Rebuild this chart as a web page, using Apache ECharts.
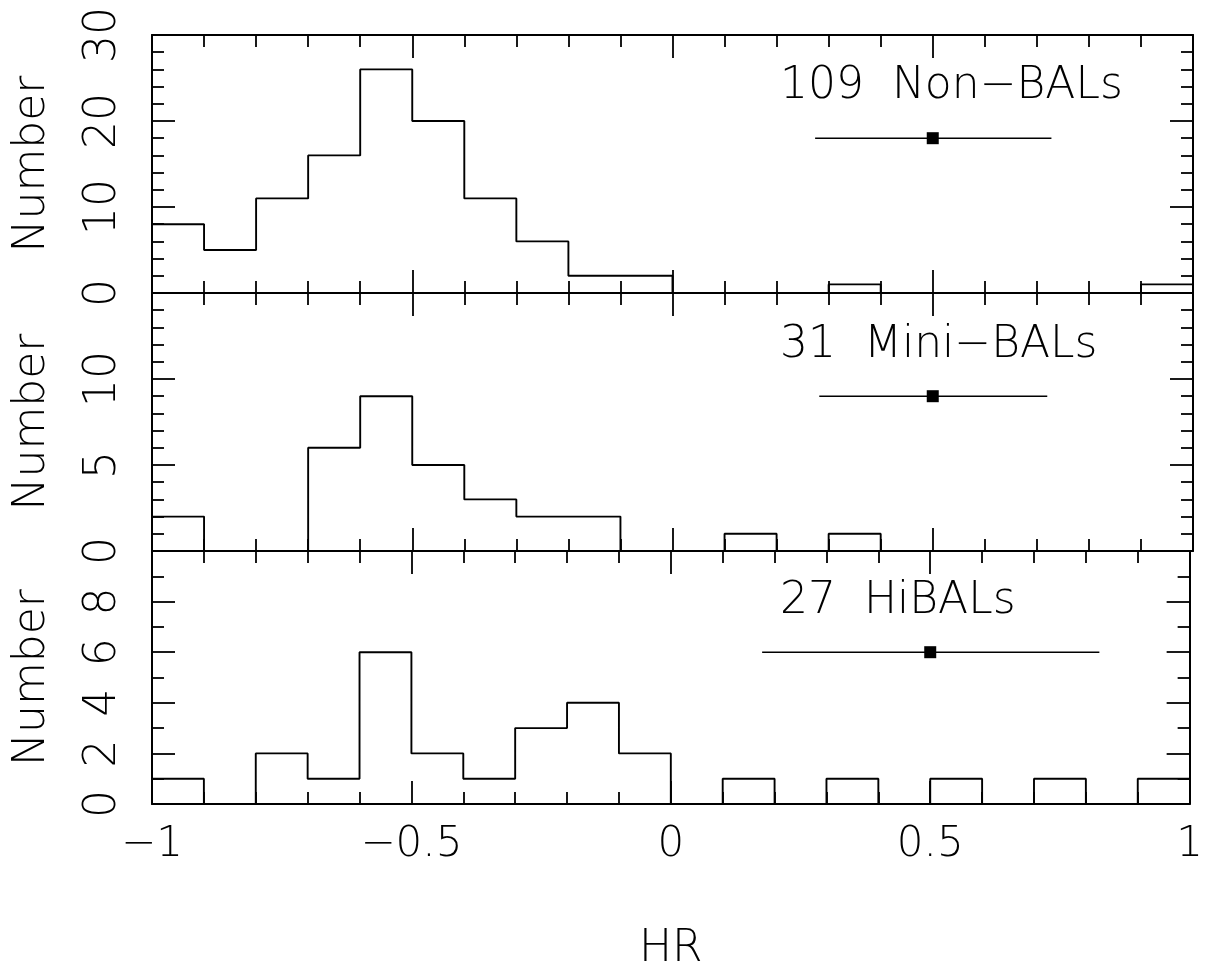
<!DOCTYPE html>
<html>
<head>
<meta charset="utf-8">
<script src="https://cdn.jsdelivr.net/npm/echarts@6/dist/echarts.min.js"></script>
<style>
  html, body { margin: 0; padding: 0; background: #ffffff; }
  #chart { width: 1206px; height: 973px; }
</style>
</head>
<body>
<div id="chart"></div>
<script>
// ---- Data ----
const hrEdges = [-1, -0.9, -0.8, -0.7, -0.6, -0.5, -0.4, -0.3, -0.2, -0.1, 0,
                 0.1, 0.2, 0.3, 0.4, 0.5, 0.6, 0.7, 0.8, 0.9, 1];
const nonBALs  = [8, 5, 11, 16, 26, 20, 11, 6, 2, 2, 0, 0, 0, 1, 0, 0, 0, 0, 0, 1];
const miniBALs = [2, 0, 0, 6, 9, 5, 3, 2, 2, 0, 0, 1, 0, 1, 0, 0, 0, 0, 0, 0];
const hiBALs   = [1, 0, 2, 1, 6, 2, 1, 3, 4, 2, 0, 1, 0, 1, 0, 1, 0, 1, 0, 1];
const panelLabels = ['109  Non\u2212BALs', '31  Mini\u2212BALs', '27  HiBALs'];
const errCenter = [0.5, 0.5, 0.5];
const errLow    = [0.274, 0.282, 0.176];
const errHigh   = [0.728, 0.720, 0.826];
const errLevel  = [18, 9, 6];
const yMax      = [30, 15, 10];
const yInterval = [10, 5, 2];
const yMinorSplit = [5, 5, 2];

// ---- Layout ----
const FONT = "'DejaVu Sans', sans-serif";
const W = 200;
const plotLeft = 152, plotWidth = 1041;
const panelTops = [35, 293, 551];
const panelH = 258;

const chart = echarts.init(document.getElementById('chart'), null, { renderer: 'canvas' });

function histPoints(vals) {
  const pts = [];
  for (let i = 0; i < vals.length; i++) {
    pts.push([hrEdges[i], vals[i]]);
    pts.push([hrEdges[i + 1], vals[i]]);
  }
  return pts;
}

const fmtMinus = v => String(v).replace('-', '\u2212');
const allData = [nonBALs, miniBALs, hiBALs];

const grids = [], xAxes = [], yAxes = [], series = [], graphics = [];
const tickStyle = { color: '#000', width: 1.8 };

for (let p = 0; p < 3; p++) {
  grids.push({ left: plotLeft, width: plotWidth, top: panelTops[p], height: panelH });
  ['bottom', 'top'].forEach(pos => {
    const showLab = (p === 2 && pos === 'bottom');
    xAxes.push({
      type: 'value', gridIndex: p, position: pos, min: -1, max: 1, interval: 0.5,
      axisLine: { show: true, onZero: false, lineStyle: { color: '#000', width: 2 } },
      axisTick: { show: true, inside: true, length: 23, lineStyle: tickStyle },
      minorTick: { show: true, splitNumber: 5, length: 12, lineStyle: tickStyle },
      splitLine: { show: false },
      axisLabel: {
        show: showLab, margin: 20, color: '#000', fontFamily: FONT, fontWeight: W, fontSize: 42,
        formatter: fmtMinus, showMinLabel: true, showMaxLabel: true
      },
      name: showLab ? 'HR' : '', nameLocation: 'middle', nameGap: 124,
      nameTextStyle: { color: '#000', fontFamily: FONT, fontWeight: W, fontSize: 44 }
    });
  });
  ['left', 'right'].forEach(pos => {
    const showLab = pos === 'left';
    yAxes.push({
      type: 'value', gridIndex: p, position: pos, min: 0, max: yMax[p], interval: yInterval[p],
      axisLine: { show: true, onZero: false, lineStyle: { color: '#000', width: 2 } },
      axisTick: { show: true, inside: true, length: 23, lineStyle: tickStyle },
      minorTick: { show: true, splitNumber: yMinorSplit[p], length: 12, lineStyle: tickStyle },
      splitLine: { show: false },
      axisLabel: {
        show: showLab, rotate: 90, margin: 26, color: '#000', fontFamily: FONT, fontWeight: W, fontSize: 44,
        showMinLabel: true, showMaxLabel: p === 0
      },
      name: showLab ? 'Number' : '', nameLocation: 'middle', nameGap: 97, nameRotate: 90,
      nameTextStyle: { color: '#000', fontFamily: FONT, fontWeight: W, fontSize: 44 }
    });
  });

  series.push({
    type: 'line', xAxisIndex: p * 2, yAxisIndex: p * 2, data: histPoints(allData[p]),
    symbol: 'none', lineStyle: { color: '#000', width: 1.9 }, animation: false, silent: true,
    clip: false
  });
  series.push({
    type: 'line', xAxisIndex: p * 2, yAxisIndex: p * 2,
    data: [[errLow[p], errLevel[p]], [errHigh[p], errLevel[p]]],
    symbol: 'none', lineStyle: { color: '#000', width: 1.6 }, animation: false, silent: true
  });
  series.push({
    type: 'scatter', xAxisIndex: p * 2, yAxisIndex: p * 2,
    data: [[errCenter[p], errLevel[p]]],
    symbol: 'rect', symbolSize: 12, itemStyle: { color: '#000', opacity: 1 },
    animation: false, silent: true
  });
}

const labelTops = [65, 324, 580];
for (let p = 0; p < 3; p++) {
  graphics.push({
    type: 'text', left: 780, top: labelTops[p],
    style: { text: panelLabels[p], fill: '#000', font: `${W} 44px ${FONT}` }
  });
}

chart.setOption({
  backgroundColor: '#ffffff',
  animation: false,
  grid: grids,
  xAxis: xAxes,
  yAxis: yAxes,
  series: series,
  graphic: graphics
});
</script>
</body>
</html>
